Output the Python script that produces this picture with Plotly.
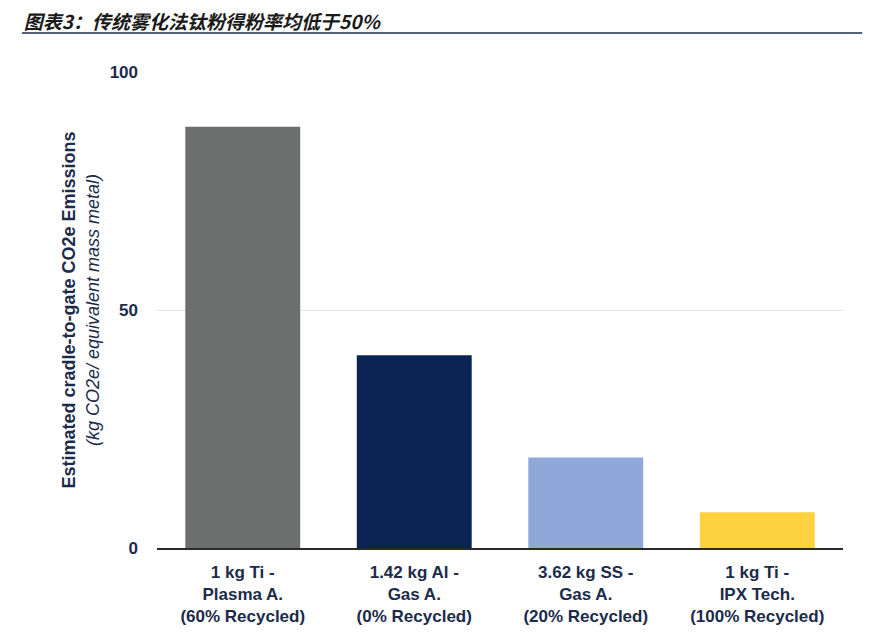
import plotly.graph_objects as go

categories = [
    '1 kg Ti -<br>Plasma A.<br>(60% Recycled)',
    '1.42 kg Al -<br>Gas A.<br>(0% Recycled)',
    '3.62 kg SS -<br>Gas A.<br>(20% Recycled)',
    '1 kg Ti -<br>IPX Tech.<br>(100% Recycled)',
]
emissions = [88.5, 40.5, 19.0, 7.5]
bar_colors = ['#6d6e6e', '#0b2352', '#8fa7d9', '#fed13f']
y_ticks = [0, 50, 100]

fig = go.Figure()
fig.add_trace(go.Bar(
    x=categories,
    y=emissions,
    marker={'color': bar_colors, 'line': {'width': 0}},
    hoverinfo='skip',
))

fig.update_layout(
    width=881,
    height=641,
    paper_bgcolor='white',
    plot_bgcolor='white',
    showlegend=False,
    bargap=0.33,
    margin={'l': 149, 'r': 46, 't': 64, 'b': 101, 'autoexpand': False},
    font={'family': 'Liberation Sans, Arial', 'color': '#1c2b4a'},
    title={
        'text': '<b><i>图表3：传统雾化法钛粉得粉率均低于50%</i></b>',
        'xref': 'container', 'yref': 'container',
        'x': 0.018, 'y': 0.978, 'xanchor': 'left', 'yanchor': 'middle',
        'font': {'family': 'Noto Sans CJK SC', 'size': 19, 'color': '#1a1a1a'},
    },
    xaxis={
        'automargin': False,
        'showgrid': False,
        'showline': True,
        'linecolor': '#2a2a2a',
        'linewidth': 1.5,
        'tickfont': {'size': 17, 'color': '#1c2b4a', 'weight': 'bold'},
        'ticks': '',
        'ticklabelstandoff': 8,
    },
    yaxis={
        'automargin': False,
        'range': [0, 100],
        'tickvals': y_ticks,
        'showgrid': True,
        'gridcolor': '#e6e6e6',
        'zeroline': False,
        'tickfont': {'size': 17, 'color': '#1c2b4a', 'weight': 'bold'},
        'ticklabelstandoff': 18,
        'title': {
            'text': '<b>Estimated cradle-to-gate CO2e Emissions</b><br>'
                    '<i>(kg CO2e/ equivalent mass metal)</i>',
            'font': {'size': 18, 'color': '#1c2b4a'},
            'standoff': 5,
        },
    },
)

fig.add_shape(
    type='line', xref='paper', yref='paper',
    x0=-0.197, x1=1.028, y0=1.082, y1=1.082,
    line={'color': '#1f2d4d', 'width': 1.5},
)

fig.write_html('out.html')
